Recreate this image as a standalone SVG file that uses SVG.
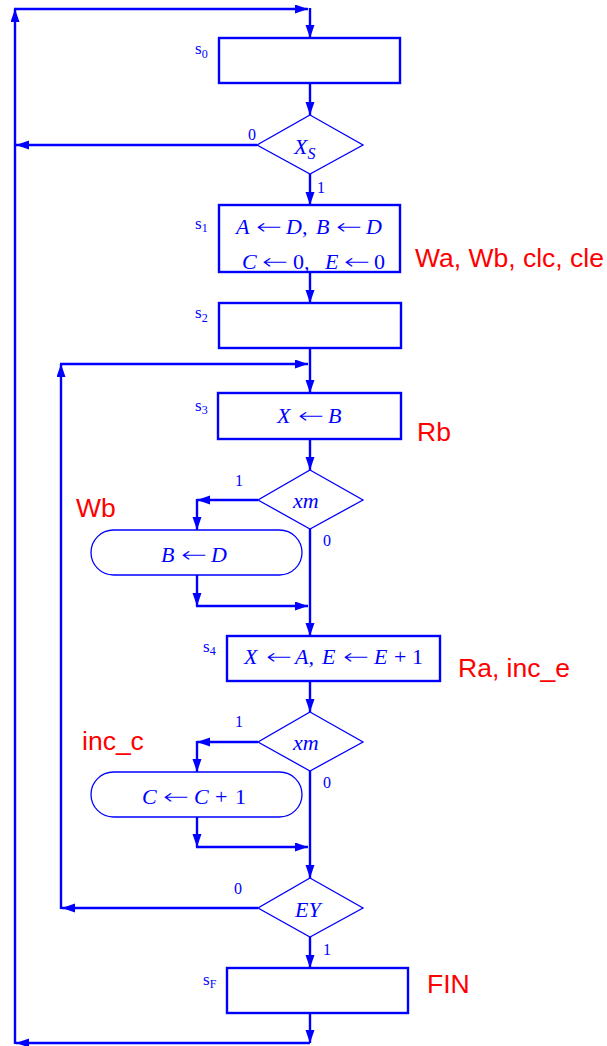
<svg xmlns="http://www.w3.org/2000/svg" width="607" height="1046" viewBox="0 0 607 1046">
  <defs>
    <marker id="arr" markerUnits="userSpaceOnUse" markerWidth="14" markerHeight="10" refX="13" refY="4.5" orient="auto">
      <path d="M0,0 L13,4.5 L0,9 z" fill="#0000ff"/>
    </marker>
    <style>
      .state { fill: none; stroke: #0000ff; stroke-width: 2.4; }
      .cond { fill: none; stroke: #0000ff; stroke-width: 1.3; }
      .cond-box { fill: none; stroke: #0000ff; stroke-width: 1.3; }
      .wire-a { fill: none; stroke: #0000ff; stroke-width: 2.4; marker-end: url(#arr); }
      .math { font-family: "Liberation Serif", "Times New Roman", serif; font-style: italic; font-size: 22px; fill: #0000ff; }
      .rm { font-style: normal; }
      .ar { font-family: "DejaVu Sans", sans-serif; font-style: normal; font-weight: 200; font-size: 22px; }
      .st { font-family: "Liberation Serif", "Times New Roman", serif; font-size: 17px; fill: #0000ff; }
      .sub { font-size: 12px; }
      .br { font-family: "Liberation Serif", "Times New Roman", serif; font-size: 16px; fill: #0000ff; }
      .sig { font-family: "Liberation Sans", Arial, sans-serif; font-size: 26.5px; fill: #ff0000; }
    </style>
  </defs>

  <!-- connectors -->
  <g id="connectors">
    <!-- outer return loop from FIN back to s0 -->
    <line class="wire-a" x1="310" y1="1013" x2="310" y2="1043"/>
    <line class="wire-a" x1="310" y1="1043" x2="16" y2="1043"/>
    <line class="wire-a" x1="15" y1="1044" x2="15" y2="9"/>
    <line class="wire-a" x1="14" y1="9" x2="308" y2="9"/>
    <line class="wire-a" x1="310" y1="8" x2="310" y2="38"/>

    <line class="wire-a" x1="310" y1="83" x2="310" y2="115"/>
    <!-- XS = 0 -->
    <line class="wire-a" x1="257" y1="145" x2="16" y2="145"/>
    <!-- XS = 1 -->
    <line class="wire-a" x1="310" y1="174" x2="310" y2="205"/>
    <line class="wire-a" x1="310" y1="272" x2="310" y2="303"/>
    <line class="wire-a" x1="310" y1="348" x2="310" y2="393"/>

    <!-- inner loop EY = 0 back to s3 -->
    <line class="wire-a" x1="258" y1="908" x2="62" y2="908"/>
    <line class="wire-a" x1="61" y1="909" x2="61" y2="364"/>
    <line class="wire-a" x1="60" y1="364" x2="308" y2="364"/>

    <line class="wire-a" x1="310" y1="439" x2="310" y2="470"/>

    <!-- first xm branch -->
    <line class="wire-a" x1="258" y1="500" x2="197" y2="500"/>
    <line class="wire-a" x1="197" y1="499" x2="197" y2="530"/>
    <line class="wire-a" x1="197" y1="575" x2="197" y2="606"/>
    <line class="wire-a" x1="196" y1="606" x2="308" y2="606"/>
    <line class="wire-a" x1="310" y1="529" x2="310" y2="636"/>

    <line class="wire-a" x1="310" y1="681" x2="310" y2="712"/>

    <!-- second xm branch -->
    <line class="wire-a" x1="258" y1="742" x2="197" y2="742"/>
    <line class="wire-a" x1="197" y1="741" x2="197" y2="772"/>
    <line class="wire-a" x1="197" y1="817" x2="197" y2="847"/>
    <line class="wire-a" x1="196" y1="847" x2="308" y2="847"/>
    <line class="wire-a" x1="310" y1="771" x2="310" y2="878"/>

    <!-- EY = 1 -->
    <line class="wire-a" x1="310" y1="937" x2="310" y2="968"/>
  </g>

  <!-- state s0 -->
  <g id="s0">
    <rect class="state" x="219" y="38" width="181" height="45"/>
    <text class="st" x="195" y="54">s<tspan class="sub" dy="4">0</tspan></text>
  </g>

  <!-- decision XS -->
  <g id="d-xs">
    <polygon class="cond" points="310,115 363,145 310,174 257,145"/>
    <text class="math" x="294" y="154">X<tspan font-size="16" dy="5">S</tspan></text>
    <text class="br" x="248" y="140">0</text>
    <text class="br" x="317" y="193">1</text>
  </g>

  <!-- state s1 -->
  <g id="s1">
    <rect class="state" x="219" y="205" width="181" height="67"/>
    <text class="st" x="195" y="229">s<tspan class="sub" dy="3">1</tspan></text>
    <text class="math" y="234"><tspan x="236">A</tspan><tspan class="ar" x="256" textLength="26" lengthAdjust="spacingAndGlyphs">←</tspan><tspan x="286">D,</tspan><tspan x="316">B</tspan><tspan class="ar" x="336" textLength="26" lengthAdjust="spacingAndGlyphs">←</tspan><tspan x="366">D</tspan></text>
    <text class="math" y="269"><tspan x="242">C</tspan><tspan class="ar" x="262" textLength="26" lengthAdjust="spacingAndGlyphs">←</tspan><tspan class="rm" x="293">0</tspan><tspan x="304">,</tspan><tspan x="325">E</tspan><tspan class="ar" x="344" textLength="26" lengthAdjust="spacingAndGlyphs">←</tspan><tspan class="rm" x="374">0</tspan></text>
    <text class="sig" x="415" y="267">Wa, Wb, clc, cle</text>
  </g>

  <!-- state s2 -->
  <g id="s2">
    <rect class="state" x="219" y="303" width="182" height="45"/>
    <text class="st" x="195" y="318">s<tspan class="sub" dy="4">2</tspan></text>
  </g>

  <!-- state s3 -->
  <g id="s3">
    <rect class="state" x="218" y="393" width="183" height="46"/>
    <text class="st" x="195" y="411">s<tspan class="sub" dy="3">3</tspan></text>
    <text class="math" y="423"><tspan x="277">X</tspan><tspan class="ar" x="298" textLength="26" lengthAdjust="spacingAndGlyphs">←</tspan><tspan x="328">B</tspan></text>
    <text class="sig" x="417" y="441">Rb</text>
  </g>

  <!-- decision xm (first) -->
  <g id="d-xm1">
    <polygon class="cond" points="310,470 363,500 310,529 258,500"/>
    <text class="math" x="293" y="508">xm</text>
    <text class="br" x="235" y="486">1</text>
    <text class="br" x="323" y="546">0</text>
  </g>

  <!-- conditional output B <- D -->
  <g id="c-bd">
    <rect class="cond-box" x="91" y="530" width="211" height="45" rx="22.5" ry="22.5"/>
    <text class="math" y="562"><tspan x="161">B</tspan><tspan class="ar" x="181" textLength="26" lengthAdjust="spacingAndGlyphs">←</tspan><tspan x="211">D</tspan></text>
    <text class="sig" x="76" y="517">Wb</text>
  </g>

  <!-- state s4 -->
  <g id="s4">
    <rect class="state" x="227" y="636" width="213" height="45"/>
    <text class="st" x="203" y="652">s<tspan class="sub" dy="3">4</tspan></text>
    <text class="math" y="664"><tspan x="244">X</tspan><tspan class="ar" x="266" textLength="26" lengthAdjust="spacingAndGlyphs">←</tspan><tspan x="295">A,</tspan><tspan x="322">E</tspan><tspan class="ar" x="343" textLength="26" lengthAdjust="spacingAndGlyphs">←</tspan><tspan x="374">E</tspan><tspan class="rm" x="394">+</tspan><tspan class="rm" x="412">1</tspan></text>
    <text class="sig" x="458" y="677">Ra, inc_e</text>
  </g>

  <!-- decision xm (second) -->
  <g id="d-xm2">
    <polygon class="cond" points="310,712 363,742 310,771 258,742"/>
    <text class="math" x="293" y="750">xm</text>
    <text class="br" x="235" y="727">1</text>
    <text class="br" x="323" y="788">0</text>
  </g>

  <!-- conditional output C <- C + 1 -->
  <g id="c-cc">
    <rect class="cond-box" x="91" y="772" width="211" height="45" rx="22.5" ry="22.5"/>
    <text class="math" y="804"><tspan x="142">C</tspan><tspan class="ar" x="163" textLength="26" lengthAdjust="spacingAndGlyphs">←</tspan><tspan x="194">C</tspan><tspan class="rm" x="215">+</tspan><tspan class="rm" x="235">1</tspan></text>
    <text class="sig" x="82" y="750">inc_c</text>
  </g>

  <!-- decision EY -->
  <g id="d-ey">
    <polygon class="cond" points="310,878 363,908 310,937 258,908"/>
    <text class="math" x="295" y="917">EY</text>
    <text class="br" x="234" y="894">0</text>
    <text class="br" x="323" y="955">1</text>
  </g>

  <!-- state sF -->
  <g id="sF">
    <rect class="state" x="227" y="968" width="181" height="45"/>
    <text class="st" x="203" y="985">s<tspan class="sub" dy="3">F</tspan></text>
    <text class="sig" x="427" y="993">FIN</text>
  </g>
</svg>
